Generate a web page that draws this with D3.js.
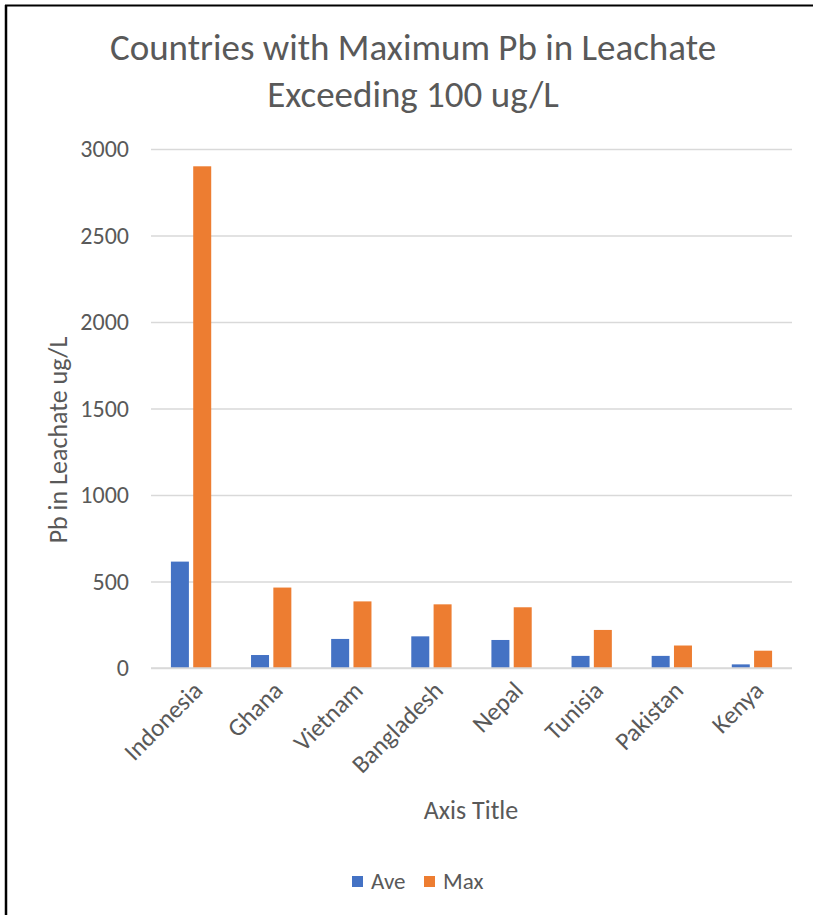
<!DOCTYPE html>
<html>
<head>
<meta charset="utf-8">
<script src="https://cdn.jsdelivr.net/npm/d3@7"></script>
<style>
  html, body { margin: 0; padding: 0; background: #fff; }
  svg { display: block; }
  text { font-family: Carlito, Calibri, "Open Sans", sans-serif; fill: #595959; }
</style>
</head>
<body>
<svg id="chart" width="813" height="915"></svg>
<script>
// Lead concentrations in leachate by country (ug/L)
const countries = ["Indonesia", "Ghana", "Vietnam", "Bangladesh", "Nepal", "Tunisia", "Pakistan", "Kenya"];
const aveValues = [615, 75, 168, 183, 162, 70, 70, 21];
const maxValues = [2900, 465, 385, 368, 351, 220, 130, 100];
const seriesNames = ["Ave", "Max"];
const seriesColors = ["#4472C4", "#ED7D31"];
const yTicks = [0, 500, 1000, 1500, 2000, 2500, 3000];

const FONT = 'Carlito, Calibri, "Open Sans", sans-serif';
const svg = d3.select("#chart");
const W = 813, H = 915;
const plot = { left: 151, right: 792, top: 149, bottom: 668 };

// Frame: top and left edges
svg.append("line").attr("x1", 5).attr("x2", W).attr("y1", 5.5).attr("y2", 5.5)
  .attr("stroke", "#000").attr("stroke-width", 2);
svg.append("line").attr("x1", 6).attr("x2", 6).attr("y1", 5).attr("y2", H)
  .attr("stroke", "#000").attr("stroke-width", 2.5);

const x = d3.scaleBand().domain(countries).range([plot.left, plot.right]).padding(0);
const cw = x.bandwidth();
const xs = d3.scaleBand().domain(seriesNames)
  .range([cw * 0.2485, cw * 0.7515]).paddingInner(0.193).paddingOuter(0);
const y = d3.scaleLinear().domain([0, 3000]).range([plot.bottom, plot.top]);

// Gridlines and tick labels
const yAxis = d3.axisLeft(y).tickValues(yTicks).tickFormat(d3.format("d"))
  .tickSize(-(plot.right - plot.left)).tickPadding(22);
const gy = svg.append("g").attr("transform", `translate(${plot.left},0)`).call(yAxis);
gy.select(".domain").remove();
gy.selectAll(".tick line").attr("stroke", "#D9D9D9").attr("stroke-width", 1.3);
gy.selectAll(".tick text").attr("fill", "#595959").style("font-size", "24px")
  .style("font-family", FONT);

// Bars
const rows = countries.map((c, i) => ({ country: c, values: [aveValues[i], maxValues[i]] }));
const groups = svg.append("g").selectAll("g").data(rows).join("g")
  .attr("transform", d => `translate(${x(d.country)},0)`);
groups.selectAll("rect").data(d => d.values.map((v, j) => ({ name: seriesNames[j], v, color: seriesColors[j] })))
  .join("rect")
  .attr("x", d => xs(d.name))
  .attr("width", xs.bandwidth())
  .attr("y", d => y(d.v))
  .attr("height", d => y(0) - y(d.v))
  .attr("fill", d => d.color);

// Baseline
svg.append("line").attr("x1", plot.left).attr("x2", plot.right)
  .attr("y1", y(0)).attr("y2", y(0)).attr("stroke", "#D9D9D9").attr("stroke-width", 1.5);

// Category labels, rotated
const xAxis = d3.axisBottom(x).tickSize(0).tickPadding(0);
const gx = svg.append("g").attr("transform", `translate(0,${plot.bottom})`).call(xAxis);
gx.select(".domain").remove();
gx.selectAll(".tick text")
  .attr("fill", "#595959").style("font-size", "25px")
  .style("font-family", FONT)
  .attr("text-anchor", "end")
  .attr("dy", "0")
  .attr("y", 0)
  .attr("transform", "translate(13,24) rotate(-45)");

// Title
svg.append("text").attr("x", 413).attr("y", 60).attr("text-anchor", "middle")
  .style("font-size", "37px").text("Countries with Maximum Pb in Leachate");
svg.append("text").attr("x", 413).attr("y", 107).attr("text-anchor", "middle")
  .style("font-size", "37px").text("Exceeding 100 ug/L");

// Axis titles
svg.append("text").attr("transform", "translate(67,440) rotate(-90)").attr("text-anchor", "middle")
  .style("font-size", "26px").text("Pb in Leachate ug/L");
svg.append("text").attr("x", 471).attr("y", 819).attr("text-anchor", "middle")
  .style("font-size", "26px").text("Axis Title");

// Legend
const legend = svg.append("g").attr("transform", "translate(352,876)");
const items = [{ name: seriesNames[0], color: seriesColors[0], dx: 0 }, { name: seriesNames[1], color: seriesColors[1], dx: 72 }];
items.forEach(it => {
  legend.append("rect").attr("x", it.dx).attr("y", 0).attr("width", 11).attr("height", 11).attr("fill", it.color);
  legend.append("text").attr("x", it.dx + 19).attr("y", 13).style("font-size", "23px").text(it.name);
});
</script>
</body>
</html>
